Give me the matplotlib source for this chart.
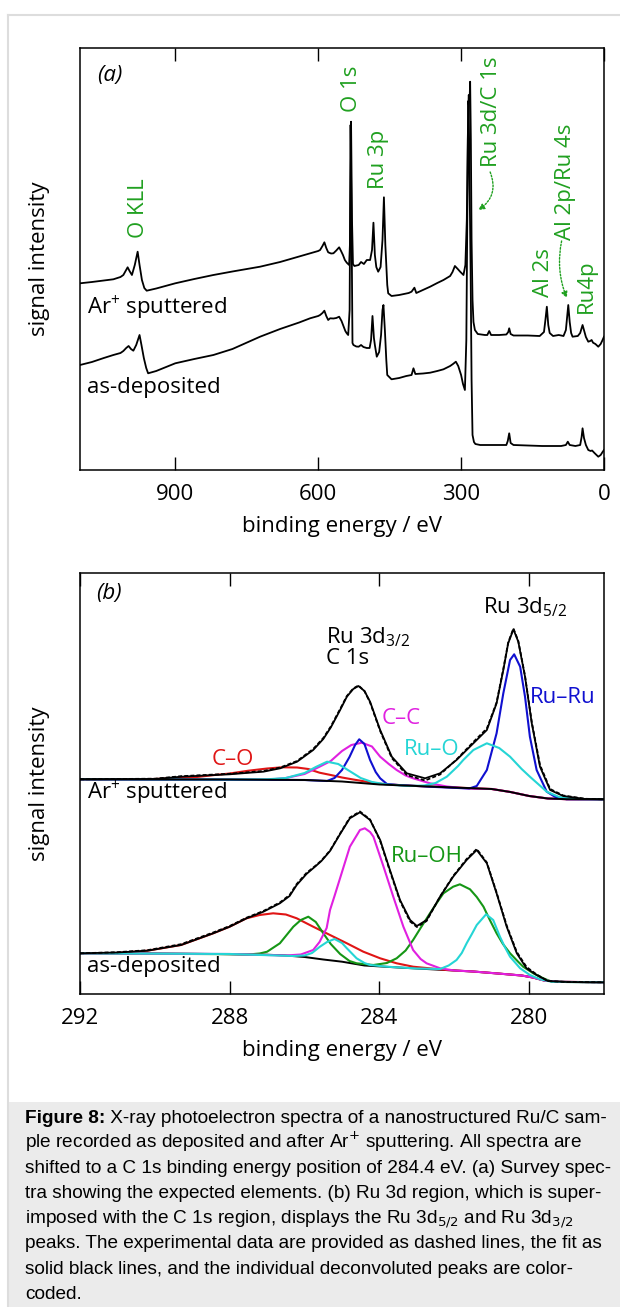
"""
XPS spectra of a nanostructured Ru/C sample (survey + Ru 3d / C 1s region)
"""

import matplotlib
matplotlib.use("Agg")
import matplotlib.pyplot as plt
from matplotlib.lines import Line2D
from matplotlib.patches import Rectangle

plt.rcParams["font.family"] = ["Open Sans", "DejaVu Sans"]
plt.rcParams["mathtext.fontset"] = "custom"
plt.rcParams["mathtext.rm"] = "Open Sans"
plt.rcParams["mathtext.it"] = "Open Sans:italic"
plt.rcParams["mathtext.bf"] = "Open Sans:bold"

FS = 16  # chart font size

# ---------------------------------------------------------------- (a) survey
survey_ticks = [900, 600, 300, 0]

sput_E = [1100, 1075, 1050, 1030, 1015, 1009, 1003, 1000, 996, 991, 985, 979, 975, 970, 965, 960,
          940, 900, 860, 820, 780, 722, 680, 640, 617, 600, 596, 591, 587, 583, 579, 573, 568, 562,
          556, 552, 548, 544, 540, 535, 533, 531, 529, 527, 524, 515, 510, 504, 498, 491, 487, 484,
          481, 478, 474, 469, 465, 462, 459, 455, 453, 446, 430, 410, 404, 398, 394, 380, 365, 350,
          337, 323, 318, 313, 307, 302, 295, 291, 288, 286, 284, 282, 281, 279.5, 278, 276, 274,
          271, 265, 250, 245, 241, 237, 220, 205, 201, 199, 196, 190, 160, 135, 126, 123, 120, 117,
          114, 107, 95, 85, 80, 77, 75, 72, 69, 66, 55, 50, 47, 45, 42, 38, 33, 29, 26, 23, 18, 12,
          7, 3, 0]
sput_I = [186.7, 188, 189.5, 190.7, 193, 195, 200, 202.7, 199, 195, 205, 218.3, 205, 190, 182, 179.3,
          181.5, 186.7, 191, 195, 198.5, 203.3, 208, 213.5, 216.7, 219, 220, 224, 227.7, 222, 217.7,
          216.5, 216.7, 219.5, 222.7, 219, 215, 210, 207.3, 205, 230, 348.3, 250, 206, 204, 205,
          208, 206, 210, 210, 220, 247.3, 215, 203, 198.3, 203, 230, 272.7, 225, 185, 176.7, 174,
          175, 177, 178.3, 182.3, 177, 180, 183.3, 187, 190, 194, 198, 204, 201, 198.3, 195, 205,
          250, 330, 375, 372, 388.3, 330, 230, 170, 148, 140, 136, 135, 135, 139, 135, 135, 135.5,
          138, 141.7, 136, 134.5, 134.5, 134, 138, 150, 163.3, 145, 137, 134, 135, 134, 140, 155,
          165, 148, 137, 133.3, 134, 137, 142, 145, 140, 133, 128.3, 129, 130, 127.3, 126, 123.3,
          126, 130, 133.3]

asdep_E = [1100, 1075, 1050, 1030, 1015, 1009, 1003, 998, 993, 988, 982, 975, 971, 966, 961, 957,
           940, 900, 860, 820, 780, 722, 680, 640, 617, 600, 596, 591, 587, 583, 579, 575, 568, 562,
           556, 551, 547, 543, 540, 537, 534, 532, 530, 528, 526, 520, 515, 510, 505, 498, 492, 489,
           486, 483, 481, 477, 472, 468, 465, 463, 460, 457, 455, 446, 430, 415, 404, 400, 396, 380,
           365, 350, 337, 323, 317, 311, 306, 300, 296, 292, 289, 287, 285, 284, 282, 280, 278, 276,
           273, 270, 260, 240, 220, 205, 202, 199, 196, 190, 160, 130, 110, 90, 80, 76, 72, 60, 50,
           47, 45, 42, 38, 33, 28, 25, 20, 12, 7, 3, 0]
asdep_I = [105, 108, 112, 115, 117, 119, 122, 124, 121, 119.3, 125, 135, 125, 112, 102, 96.7,
           99, 106.7, 111, 115, 121, 133.3, 141, 147.5, 151.7, 154, 155, 157, 159.3, 154, 150, 151.7,
           151.5, 152, 153.3, 149, 144, 139, 136.7, 135, 160, 345, 250, 127, 125, 123.5, 123.3, 125,
           123, 122, 122, 130, 154, 132, 125, 113.3, 118, 135, 160, 165, 140, 110, 95, 90.7, 92, 94,
           95, 101.7, 96, 96.5, 97.3, 99, 100.7, 104, 106, 108.3, 104, 95, 86, 80, 130, 250, 369,
           365, 280, 200, 90, 35, 28, 26, 25, 25, 25, 25, 29, 36.7, 27, 25, 24.5, 24, 24, 24, 25,
           28.3, 25, 24, 25, 33, 41.7, 32, 25, 20, 19, 19.5, 17, 13.3, 15, 18, 20]

# ---------------------------------------------------- (b) Ru 3d / C 1s region
region_ticks = [292, 288, 284, 280]

# Ar+ sputtered
sp_fit_E = [292, 290, 289.3, 288.5, 288, 287.5, 287.1, 286.65, 286.2, 285.77, 285.5, 285.3, 285.05,
            284.87, 284.7, 284.56, 284.4, 284.25, 283.98, 283.67, 283.27, 282.78, 282.38, 281.94,
            281.49, 281.13, 280.87, 280.69, 280.56, 280.42, 280.29, 280.11, 279.93, 279.71, 279.44,
            279.09, 278.5, 278]
sp_fit_I = [214.7, 215, 217.3, 218.8, 219.7, 221.2, 222.3, 225.7, 232.3, 244, 255, 266.5, 284,
            297.3, 305, 308, 303, 292.3, 264, 237.3, 220.7, 215.7, 220.7, 234, 250.7, 264, 290.7,
            324, 350.7, 364.7, 352.3, 317.3, 270.7, 227.3, 204, 198, 195, 194.7]
sp_data_I = [214.7, 215.3, 217.8, 219.3, 220.2, 221.8, 223, 226.5, 233, 245, 256, 267.5, 285,
             298, 305.5, 308.5, 303, 291.5, 263, 236, 219, 213.5, 219.5, 234.5, 252, 265.5, 291.5,
             325, 351.5, 365.5, 353, 318, 272, 229, 205, 198.5, 195.2, 194.7]
sp_bg_E = [292, 288, 286, 285, 284.5, 284, 283, 282, 281, 280.5, 280, 279.5, 279, 278]
sp_bg_I = [214.7, 214.5, 214, 212.5, 211, 209.5, 208, 206.5, 205, 202, 198, 195.5, 194.8, 194.7]

sp_CO_E = [292, 290, 289, 288.4, 288, 287.5, 287, 286.6, 286.2, 285.9, 285.6, 285.3, 285, 284.7,
           284.3, 284, 283.5, 283, 282, 281, 280.5, 280, 279.5, 279, 278]
sp_CO_I = [214.7, 215, 216.5, 219, 220.5, 223.3, 225.5, 226.7, 226.5, 225, 221.3, 219, 216.5, 214.5,
           212, 210.3, 209, 208, 206.5, 205, 202, 198, 195.5, 194.8, 194.7]
sp_CC_E = [292, 288, 287, 286.5, 286, 285.6, 285.3, 285, 284.75, 284.47, 284.2, 283.98, 283.75,
           283.54, 283.3, 283.1, 282.65, 282.2, 281.8, 281.5, 281, 280.5, 280, 279.5, 279, 278]
sp_CC_I = [214.7, 214.5, 214.2, 216, 220, 227.3, 233, 243, 249, 251.3, 247.5, 237.3, 230, 224,
           218.5, 215.7, 210.7, 207.5, 206, 205.3, 205, 202, 198, 195.5, 194.8, 194.7]
sp_RuO_E = [292, 288, 287, 286.5, 286, 285.7, 285.4, 285.1, 284.8, 284.5, 284.2, 283.8, 283.2,
            282.8, 282.5, 282.2, 281.9, 281.76, 281.49, 281.13, 280.8, 280.51, 280.2, 279.98, 279.7,
            279.53, 279.2, 278.8, 278]
sp_RuO_I = [214.7, 214.5, 214.7, 216, 221, 227, 232.3, 230, 223, 216, 212, 209.5, 208, 208.5, 211,
            217.3, 228, 234, 244, 250.7, 246, 237.3, 225, 217.3, 208, 202.3, 197, 195, 194.7]
sp_RuRu_E = [292, 286, 285.4, 285.2, 285, 284.8, 284.65, 284.54, 284.4, 284.25, 284.1, 283.98,
             283.8, 283.5, 282.5, 281.6, 281.4, 281.13, 280.87, 280.69, 280.51, 280.4, 280.24,
             280.11, 279.98, 279.8, 279.53, 279.3, 279, 278]
sp_RuRu_I = [214.7, 214, 213, 216, 224, 237, 249, 254.7, 250, 234, 222, 215.7, 210, 209, 207,
             205.5, 208, 224, 260.7, 300.7, 334, 339.7, 327.3, 297.3, 257.3, 224, 202.3, 197,
             194.8, 194.7]

# as-deposited
ad_fit_E = [292, 291, 290.2, 289.3, 288.44, 288, 287.55, 287.1, 286.66, 286.4, 286.21, 285.95,
            285.7, 285.55, 285.32, 285.05, 284.79, 284.52, 284.25, 283.98, 283.72, 283.45, 283.18,
            283, 282.74, 282.38, 282.03, 281.67, 281.4, 281.13, 280.87, 280.6, 280.33, 280.07,
            279.8, 279.5, 279, 278]
ad_fit_I = [40.7, 41.5, 43.3, 49, 60.7, 67.3, 75.7, 82.3, 90.7, 98, 109, 120, 128, 133, 143, 160,
            175.7, 181.7, 174, 154, 124, 94, 74, 68, 74, 97.3, 117.3, 134, 144, 130.7, 100.7, 67.3,
            40.7, 25.7, 19, 13, 12, 11.7]
ad_data_I = [40.7, 41.8, 43.8, 49.8, 61.5, 68, 76.3, 83, 91.5, 99, 110, 121, 128.5, 133.5, 143.5,
             160.5, 176.5, 182.5, 174.5, 153, 123, 93, 72.5, 67, 73, 97.5, 118, 135, 145, 131.5,
             101.5, 68.5, 42, 27, 19.5, 13, 12, 11.7]
ad_bg_E = [292, 290, 288.4, 287, 286.5, 286, 285.5, 285, 284.4, 283.5, 282.6, 281.5, 280.9, 280.2,
           279.9, 279.6, 279.2, 278]
ad_bg_I = [40.7, 40.5, 40, 39.3, 38.5, 37, 34.5, 32.3, 28.5, 26.5, 24.7, 22.5, 20.7, 18.5, 16.5,
           13.5, 12.2, 11.7]

ad_CO_E = [292, 291, 290.2, 289.3, 288.44, 288, 287.55, 287.2, 286.84, 286.5, 286.21, 285.77,
           285.32, 284.87, 284.43, 283.98, 283.54, 283.1, 282.2, 281.5, 280.9, 280.2, 279.9, 279.6,
           279.2, 278]
ad_CO_I = [40.7, 41, 43.3, 49, 60.7, 67.3, 75.7, 79, 80.7, 79.5, 75.7, 67.3, 59, 50.7, 42.3, 35.7,
           30.7, 27.3, 24, 22.5, 20.7, 18.5, 16.5, 13.5, 12.2, 11.7]
ad_RuOH_E = [292, 288, 287.5, 287.2, 287, 286.66, 286.3, 286.1, 285.9, 285.7, 285.5, 285.3, 285.05,
             284.8, 284.61, 284.16, 283.8, 283.54, 283.3, 283.1, 282.9, 282.65, 282.45, 282.29,
             282.03, 281.85, 281.58, 281.4, 281.22, 281.05, 280.87, 280.7, 280.51, 280.3, 280.16,
             279.89, 279.62, 279.4, 279, 278]
ad_RuOH_I = [40.7, 39.8, 39.5, 40.5, 42.3, 50.7, 67.3, 74, 77.3, 72, 60.7, 50, 40, 33, 30.7, 29,
             31, 35.7, 43.5, 54, 66, 80.7, 92, 100.7, 107.3, 109.7, 104.7, 97, 87.3, 74, 60.7, 50,
             40.7, 32.5, 27.3, 20.7, 15.7, 12.3, 12, 11.7]
ad_CC_E = [292, 288, 286.5, 286.1, 285.77, 285.6, 285.41, 285.32, 285.2, 285.05, 284.79, 284.52,
           284.39, 284.25, 284.16, 283.89, 283.63, 283.36, 283.1, 282.9, 282.74, 282.38, 282,
           281.5, 280.9, 280.2, 279.9, 279.6, 279.2, 278]
ad_CC_I = [40.7, 40, 38.5, 39.5, 44, 52, 66, 84, 98, 116, 147.3, 164, 165.7, 162, 157.3, 127.3,
           97.3, 67.3, 44, 35, 30.7, 25.7, 23.5, 22.5, 20.7, 18.5, 16.5, 13.5, 12.2, 11.7]
ad_RuO_E = [292, 288, 286.3, 286, 285.8, 285.59, 285.4, 285.2, 285, 284.87, 284.61, 284.4, 284.25,
            283.8, 283, 282.38, 282.15, 281.94, 281.8, 281.67, 281.53, 281.4, 281.15, 280.96,
            280.78, 280.65, 280.51, 280.24, 279.98, 279.71, 279.4, 279, 278]
ad_RuO_I = [40.7, 40, 38, 38.5, 41, 47.3, 52, 55, 51, 45.7, 35.7, 31, 29, 27.3, 25.5, 25, 28.5, 34,
            41, 50.7, 60, 69, 79.7, 74, 57.3, 47, 37.3, 25.7, 19, 14.7, 12.3, 12, 11.7]

# colours
GREEN_TXT = "#20a020"
C_RED = "#e01515"
C_MAG = "#e020e0"
C_BLUE = "#1010d0"
C_CYAN = "#25d5d5"
C_GREEN = "#159615"

W, H = 620, 1307


def fx(px):
    return px / W


def fy(py):
    return 1 - py / H


fig = plt.figure(figsize=(W / 100, H / 100), dpi=100)
fig.patch.set_facecolor("white")

# page frame and caption box
fig.add_artist(Line2D([fx(8), fx(8)], [fy(15), 0], color="#dddddd", lw=1.5))
fig.add_artist(Line2D([fx(8), 1], [fy(15), fy(15)], color="#dddddd", lw=1.5))
fig.add_artist(Rectangle((fx(9), 0), 1 - fx(9), fy(1102), transform=fig.transFigure,
                         facecolor="#ebebeb", edgecolor="none"))


def style_axes(ax, ticks):
    for s in ax.spines.values():
        s.set_linewidth(1.1)
    ax.set_xticks(ticks)
    ax.tick_params(axis="x", direction="in", length=9.5, width=1.0, top=True,
                   labelsize=FS, pad=10)
    ax.tick_params(axis="y", left=False, labelleft=False)
    ax.set_xlabel("binding energy / eV", fontsize=FS, labelpad=8)
    ax.set_ylabel("signal intensity", fontsize=FS)
    ax.yaxis.set_label_coords(-0.058, 0.5)


# ---- panel (a)
ax1 = fig.add_axes([fx(80), fy(470), fx(604) - fx(80), fy(48) - fy(470)])
ax1.plot(sput_E, sput_I, color="black", lw=1.3)
ax1.plot(asdep_E, asdep_I, color="black", lw=1.3)
ax1.set_xlim(1100, 0)
ax1.set_ylim(0, 422)
style_axes(ax1, survey_ticks)

ax1.text(1037, 395, "(a)", fontsize=FS, style="italic", ha="center", va="center")
ax1.text(1085, 156, "Ar$^{+}$ sputtered", fontsize=FS, ha="left", va="baseline")
ax1.text(1085, 77, "as-deposited", fontsize=FS, ha="left", va="baseline")

peak_labels = [("O KLL", 978, 232), ("O 1s", 531, 358), ("Ru 3p", 473, 281),
               ("Ru 3d/C 1s", 237, 303), ("Al 2p/Ru 4s", 81, 230), ("Al 2s", 126, 173),
               ("Ru4p", 36, 157)]
for lab, e, i in peak_labels:
    ax1.text(e, i, lab, rotation=90, color=GREEN_TXT, fontsize=FS, ha="center", va="bottom")

arrow_kw = dict(arrowstyle="-|>", color=GREEN_TXT, lw=1.0, linestyle=(0, (1.2, 1.2)),
                mutation_scale=9, shrinkA=0, shrinkB=0)
ax1.annotate("", xy=(264, 260), xytext=(239, 298),
             arrowprops=dict(connectionstyle="arc3,rad=-0.4", **arrow_kw))
ax1.annotate("", xy=(78, 172), xytext=(89, 229),
             arrowprops=dict(connectionstyle="arc3,rad=0.15", **arrow_kw))

# ---- panel (b)
ax2 = fig.add_axes([fx(80), fy(994), fx(604) - fx(80), fy(573) - fy(994)])
ax2.plot(ad_bg_E, ad_bg_I, color="black", lw=1.4)
comp = [(sp_CO_E, sp_CO_I, C_RED), (sp_CC_E, sp_CC_I, C_MAG), (sp_RuRu_E, sp_RuRu_I, C_BLUE),
        (sp_RuO_E, sp_RuO_I, C_CYAN),
        (ad_CO_E, ad_CO_I, C_RED), (ad_RuOH_E, ad_RuOH_I, C_GREEN), (ad_CC_E, ad_CC_I, C_MAG),
        (ad_RuO_E, ad_RuO_I, C_CYAN)]
for e, i, c in comp:
    ax2.plot(e, i, color=c, lw=1.5)
ax2.plot(sp_bg_E, sp_bg_I, color="black", lw=1.4)
ax2.plot(sp_fit_E, sp_fit_I, color="black", lw=1.3)
ax2.plot(sp_fit_E, sp_data_I, color="black", lw=1.3, ls=(0, (2.2, 1.2)))
ax2.plot(ad_fit_E, ad_fit_I, color="black", lw=1.3)
ax2.plot(ad_fit_E, ad_data_I, color="black", lw=1.3, ls=(0, (2.2, 1.2)))
ax2.set_xlim(292, 278)
ax2.set_ylim(0, 421)
style_axes(ax2, region_ticks)

ax2.text(291.23, 401, "(b)", fontsize=FS, style="italic", ha="center", va="center")
ax2.text(281.23, 381, "Ru 3d$_{5/2}$", fontsize=FS, ha="left", va="baseline")
ax2.text(285.44, 351, "Ru 3d$_{3/2}$", fontsize=FS, ha="left", va="baseline")
ax2.text(285.44, 330, "C 1s", fontsize=FS, ha="left", va="baseline")
ax2.text(283.42, 270, "C–C", fontsize=FS, color=C_MAG, ha="center", va="baseline")
ax2.text(282.6, 239, "Ru–O", fontsize=FS, color=C_CYAN, ha="center", va="baseline")
ax2.text(279.1, 291, "Ru–Ru", fontsize=FS, color=C_BLUE, ha="center", va="baseline")
ax2.text(287.91, 229, "C–O", fontsize=FS, color=C_RED, ha="center", va="baseline")
ax2.text(282.73, 132, "Ru–OH", fontsize=FS, color=C_GREEN, ha="center", va="baseline")
ax2.text(291.82, 195, "Ar$^{+}$ sputtered", fontsize=FS, ha="left", va="baseline")
ax2.text(291.82, 22, "as-deposited", fontsize=FS, ha="left", va="baseline")

# ---- caption
cap_font = dict(family=["Liberation Sans", "DejaVu Sans"], fontsize=13.7, va="baseline",
                ha="left", math_fontfamily="dejavusans")
cap_lines = [
    " X-ray photoelectron spectra of a nanostructured Ru/C sam-",
    "ple recorded as deposited and after Ar$^{+}$ sputtering. All spectra are",
    "shifted to a C 1s binding energy position of 284.4 eV. (a) Survey spec-",
    "tra showing the expected elements. (b) Ru 3d region, which is super-",
    "imposed with the C 1s region, displays the Ru 3d$_{5/2}$ and Ru 3d$_{3/2}$",
    "peaks. The experimental data are provided as dashed lines, the fit as",
    "solid black lines, and the individual deconvoluted peaks are color-",
    "coded.",
]
head = fig.text(fx(25), fy(1123), "Figure 8:", fontweight="bold", **cap_font)
renderer = fig.canvas.get_renderer()
hx = head.get_window_extent(renderer).x1 / W
fig.text(hx, fy(1123), cap_lines[0], **cap_font)
for k, line in enumerate(cap_lines[1:], start=1):
    fig.text(fx(25), fy(1123 + k * 25.1), line, **cap_font)

fig.savefig("out.png", dpi=100)
